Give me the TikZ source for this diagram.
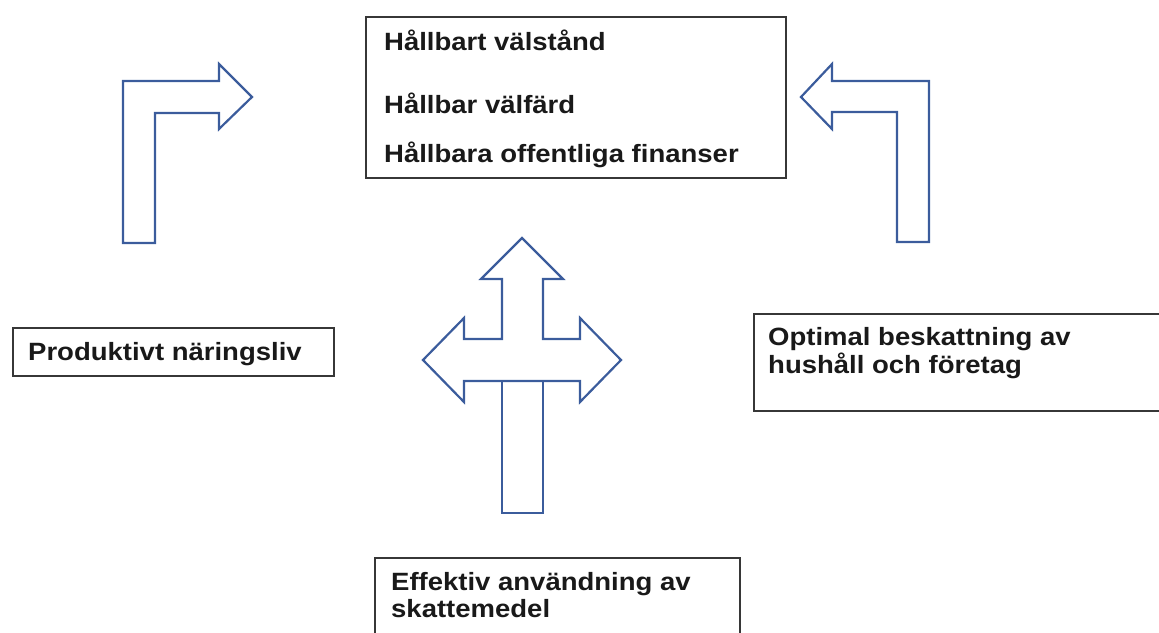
\documentclass[tikz,border=0pt]{standalone}
\usepackage{fontspec}
\newfontfamily\boxfont{Liberation Sans}[FakeStretch=1.1]
\definecolor{arrowblue}{RGB}{59,92,156}
\definecolor{boxline}{RGB}{55,55,55}
\definecolor{txtgray}{RGB}{25,25,25}
\tikzset{
  goalbox/.style={draw=boxline, line width=1.6pt, anchor=north west, inner sep=0pt},
  boxtext/.style={anchor=base west, inner sep=0pt, text=txtgray, font=\boxfont\bfseries\fontsize{25}{28}\selectfont},
  bigarrow/.style={draw=arrowblue, line width=2.2pt, line join=miter}
}
\begin{document}
\begin{tikzpicture}[x=1pt,y=-1pt]
   \clip (0,0) rectangle (1159,632);
   \useasboundingbox (0,0) rectangle (1159,632);

   \node[goalbox, minimum width=420, minimum height=161] (goal) at (365,16) {};
   \node[boxtext] (goal1) at (384,50) {Hållbart välstånd};
   \node[boxtext] (goal2) at (384,113) {Hållbar välfärd};
   \node[boxtext] (goal3) at (384,162) {Hållbara offentliga finanser};

   \node[goalbox, minimum width=321, minimum height=48] (prod) at (12,327) {};
   \node[boxtext] (prod1) at (28,360) {Produktivt näringsliv};

   \node[goalbox, minimum width=430, minimum height=97] (tax) at (753,313) {};
   \node[boxtext] (tax1) at (768,345) {Optimal beskattning av};
   \node[boxtext] (tax2) at (768,373) {hushåll och företag};

   \node[goalbox, minimum width=365, minimum height=100] (use) at (374,557) {};
   \node[boxtext] (use1) at (391,590) {Effektiv användning av};
   \node[boxtext] (use2) at (391,617) {skattemedel};

   \draw[bigarrow] (123,243) -- (123,81) -- (219,81) -- (219,64) -- (252,97)
      -- (219,129) -- (219,113) -- (155,113) -- (155,243) -- cycle;
   \draw[bigarrow] (929,242) -- (929,81) -- (832,81) -- (832,64) -- (801,97)
      -- (832,129) -- (832,112) -- (897,112) -- (897,242) -- cycle;

   \draw[bigarrow] (522,238) -- (563,279) -- (543,279) -- (543,339) -- (580,339)
      -- (580,318) -- (621,360) -- (580,402) -- (580,381) -- (464,381)
      -- (464,402) -- (423,360) -- (464,318) -- (464,339) -- (502,339)
      -- (502,279) -- (481,279) -- cycle;
   \draw[bigarrow] (502,381) rectangle (543,513);
\end{tikzpicture}
\end{document}
